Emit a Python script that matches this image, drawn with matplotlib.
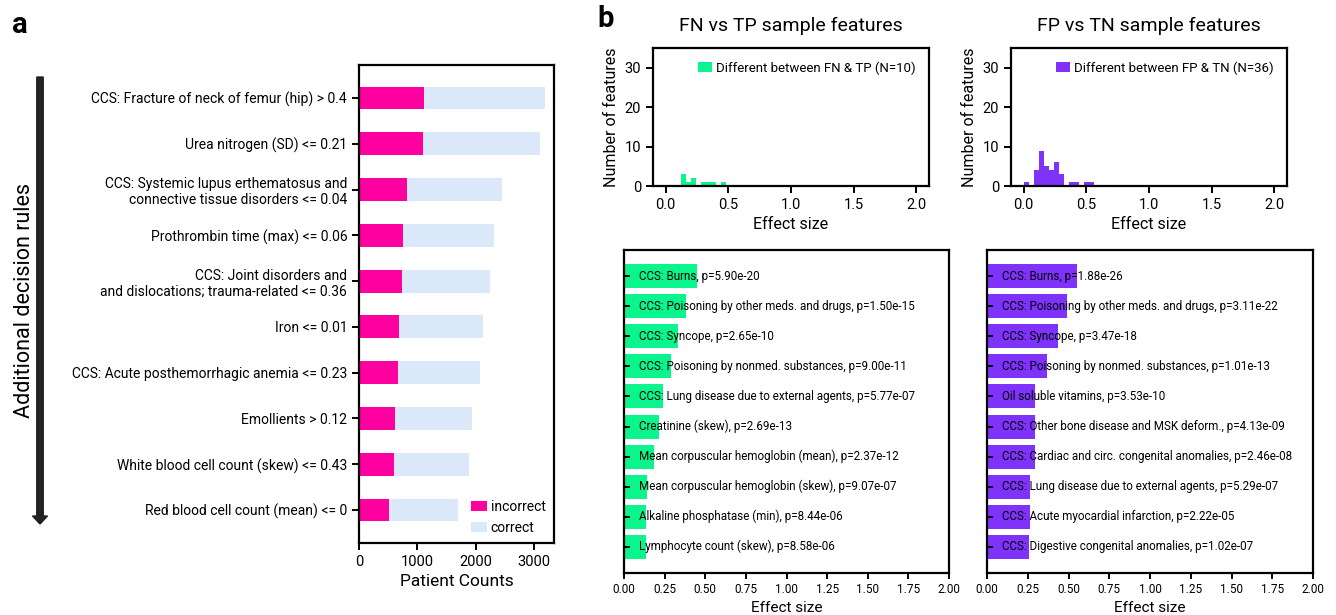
import matplotlib
matplotlib.use("Agg")
import matplotlib.pyplot as plt
import numpy as np

plt.rcParams['font.family'] = ['Roboto', 'DejaVu Sans']

# ---------------- data ----------------
rules = [
    "CCS: Fracture of neck of femur (hip) > 0.4",
    "Urea nitrogen (SD) <= 0.21",
    "CCS: Systemic lupus erthematosus and\nconnective tissue disorders <= 0.04",
    "Prothrombin time (max) <= 0.06",
    "CCS: Joint disorders and\nand dislocations; trauma-related <= 0.36",
    "Iron <= 0.01",
    "CCS: Acute posthemorrhagic anemia <= 0.23",
    "Emollients > 0.12",
    "White blood cell count (skew) <= 0.43",
    "Red blood cell count (mean) <= 0",
]
incorrect = [1105, 1090, 815, 750, 733, 680, 664, 612, 596, 510]
correct = [2080, 2010, 1638, 1567, 1516, 1449, 1414, 1330, 1295, 1194]

hist_bins = np.round(np.arange(0, 2.0001, 0.04), 2)
fn_hist_counts = [0, 0, 0, 3, 1, 2, 0, 1, 1, 1, 0, 1]
fp_hist_counts = [1, 0, 4, 9, 5, 4, 6, 3, 0, 1, 1, 0, 1, 1]

fn_features = [
    "CCS: Burns", "CCS: Poisoning by other meds. and drugs", "CCS: Syncope",
    "CCS: Poisoning by nonmed. substances", "CCS: Lung disease due to external agents",
    "Creatinine (skew)", "Mean corpuscular hemoglobin (mean)",
    "Mean corpuscular hemoglobin (skew)", "Alkaline phosphatase (min)",
    "Lymphocyte count (skew)",
]
fn_effect = [0.448, 0.38, 0.331, 0.288, 0.238, 0.214, 0.183, 0.14, 0.134, 0.134]
fn_pvals = [5.90e-20, 1.50e-15, 2.65e-10, 9.00e-11, 5.77e-07, 2.69e-13, 2.37e-12,
            9.07e-07, 8.44e-06, 8.58e-06]

fp_features = [
    "CCS: Burns", "CCS: Poisoning by other meds. and drugs", "CCS: Syncope",
    "CCS: Poisoning by nonmed. substances", "Oil soluble vitamins",
    "CCS: Other bone disease and MSK deform.", "CCS: Cardiac and circ. congenital anomalies",
    "CCS: Lung disease due to external agents", "CCS: Acute myocardial infarction",
    "CCS: Digestive congenital anomalies",
]
fp_effect = [0.551, 0.49, 0.435, 0.367, 0.293, 0.293, 0.293, 0.263, 0.263, 0.256]
fp_pvals = [1.88e-26, 3.11e-22, 3.47e-18, 1.01e-13, 3.53e-10, 4.13e-09, 2.46e-08,
            5.29e-07, 2.22e-05, 1.02e-07]

PINK = "#FF00A0"
LIGHT = "#DAE8FA"
GREEN = "#0AF58C"
PURPLE = "#7F33FA"

W, H = 1336, 615
fig = plt.figure(figsize=(W / 100, H / 100), dpi=100)


def rect(l, t, r, b):
    return [l / W, 1 - b / H, (r - l) / W, (b - t) / H]


def style(ax):
    for s in ax.spines.values():
        s.set_linewidth(1.6)
    ax.tick_params(width=1.4)


# ---------------- panel a ----------------
axa = fig.add_axes(rect(359, 65, 554, 543))
y = np.arange(len(rules))
axa.barh(y, incorrect, height=0.5, color=PINK, label="incorrect")
axa.barh(y, correct, left=incorrect, height=0.5, color=LIGHT, label="correct")
axa.set_yticks(y)
axa.set_yticklabels(rules, fontsize=10)
axa.set_ylim(9.72, -0.72)
axa.set_xlim(0, 3340)
axa.set_xticks([0, 1000, 2000, 3000])
axa.tick_params(axis='x', labelsize=10.5, length=5)
axa.tick_params(axis='y', length=5)
axa.set_xlabel("Patient Counts", fontsize=12.5)
axa.legend(loc="lower right", frameon=False, fontsize=10, handlelength=1.1,
           handleheight=0.8, handletextpad=0.3, borderaxespad=0.2, labelspacing=0.5)
style(axa)

fig.text(12 / W, 1 - 25 / H, "a", fontsize=21, fontweight="bold", va="center", ha="left")
fig.text(25 / W, 1 - 300 / H, "Additional decision rules", fontsize=15.5, rotation=90,
         va="center", ha="center")
fig.patches.append(matplotlib.patches.FancyArrow(
    40 / W, 1 - 77 / H, 0, -(447) / H, width=6.5 / W, head_width=15 / W,
    head_length=8 / H, length_includes_head=True, color="#222222",
    transform=fig.transFigure, figure=fig))

fig.text(597 / W, 1 - 19 / H, "b", fontsize=21, fontweight="bold", va="center", ha="left")

# ---------------- histograms ----------------
def hist_panel(axrect, counts, color, label, title):
    ax = fig.add_axes(axrect)
    edges = hist_bins[:len(counts) + 1]
    centers = (edges[:-1] + edges[1:]) / 2
    ax.hist(centers, bins=edges, weights=counts, color=color, label=label)
    ax.set_xlim(-0.1, 2.1)
    ax.set_ylim(0, 35)
    ax.set_xticks([0.0, 0.5, 1.0, 1.5, 2.0])
    ax.set_yticks([0, 10, 20, 30])
    ax.tick_params(labelsize=10.5, length=5)
    ax.set_xlabel("Effect size", fontsize=11.5)
    ax.set_ylabel("Number of features", fontsize=11.5)
    ax.set_title(title, fontsize=14, pad=12)
    ax.legend(loc="upper right", frameon=False, fontsize=9.5, handlelength=1.1,
              handleheight=0.8, handletextpad=0.3, borderaxespad=0.6)
    style(ax)
    return ax


hist_panel(rect(653, 48, 929, 186), fn_hist_counts, GREEN,
           "Different between FN & TP (N=10)", "FN vs TP sample features")
hist_panel(rect(1011, 48, 1287, 186), fp_hist_counts, PURPLE,
           "Different between FP & TN (N=36)", "FP vs TN sample features")


# ---------------- bar panels ----------------
def bar_panel(axrect, effects, names, pvals, color):
    ax = fig.add_axes(axrect)
    yy = np.arange(len(effects))
    ax.barh(yy, effects, height=0.8, color=color)
    for i, (n, p) in enumerate(zip(names, pvals)):
        ax.text(0.09, i, f"{n}, p={p:.2e}", va="center", ha="left", fontsize=8.4)
    ax.set_ylim(9.88, -0.88)
    ax.set_xlim(0, 2.0)
    ax.set_yticks(yy)
    ax.set_yticklabels([])
    ax.tick_params(axis='y', direction='in', length=4)
    ax.set_xticks(np.arange(0, 2.01, 0.25))
    ax.tick_params(axis='x', labelsize=8.5, length=4)
    ax.set_xlabel("Effect size", fontsize=11, labelpad=3)
    style(ax)
    return ax


bar_panel(rect(624, 250, 949, 573), fn_effect, fn_features, fn_pvals, GREEN)
bar_panel(rect(987, 250, 1313, 573), fp_effect, fp_features, fp_pvals, PURPLE)

fig.savefig("out.png", dpi=100)
